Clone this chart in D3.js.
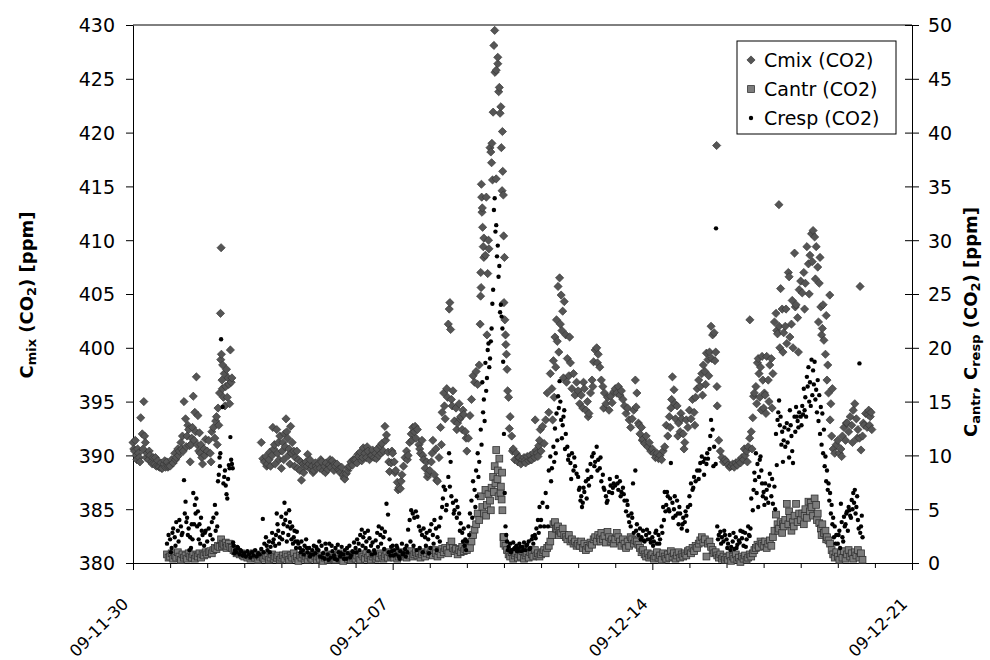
<!DOCTYPE html>
<html>
<head>
<meta charset="utf-8">
<script src="https://cdn.jsdelivr.net/npm/d3@7"></script>
<style>
  body { margin: 0; background: #fff; }
  text { font-family: "DejaVu Sans", sans-serif; fill: #000; }
</style>
</head>
<body>
<div id="chart"></div>
<script>
var N = null;

// hourly readings, one row per day from 09-11-30 00:00 (null = no data)
var cmixHourly = [
  [391.2,390.4,390.0,390.6,389.8,393.5,392.0,395.0,391.2,390.2,389.6,390.0,389.4,389.8,389.2,389.0,389.5,388.9,389.3,388.8,389.2,388.9,389.4,389.0],
  [389.0,389.6,389.3,390.2,389.8,390.6,390.4,391.2,391.8,395.0,393.4,391.8,392.4,389.4,391.6,395.5,394.0,397.3,393.7,392.1,391.0,389.2,390.6,391.5],
  [390.4,391.4,390.2,392.2,392.6,391.6,393.6,394.4,395.8,409.3,398.4,397.6,396.4,395.4,396.6,399.8,397.2,N,N,N,N,N,N,N],
  [N,N,N,N,N,N,N,N,N,N,N,391.2,389.7,389.4,389.9,389.2,389.6,389.0,390.0,390.6,389.2,392.4,391.2,391.8],
  [388.8,391.2,392.0,393.4,391.6,390.6,392.7,391.2,390.4,389.8,390.4,389.6,388.6,387.7,389.2,389.0,389.4,390.1,389.2,388.7,389.0,388.6,389.3,388.8],
  [389.2,388.8,389.4,388.6,389.0,389.3,388.7,389.1,388.9,389.5,388.6,389.0,389.2,388.7,388.4,388.9,388.2,387.8,388.3,388.6,389.0,389.4,389.1,389.6],
  [389.6,389.3,389.9,390.3,389.5,390.7,390.2,389.8,390.4,389.6,390.0,390.5,389.8,390.2,390.6,390.0,390.9,391.1,390.4,392.7,391.9,390.3,388.5,389.3],
  [390.2,389.4,388.6,387.5,387.0,386.9,388.2,389.0,389.8,390.4,390.0,391.2,392.0,392.6,392.2,391.6,392.4,391.0,390.2,391.4,389.6,388.8,389.4,388.3],
  [388.6,389.4,391.4,388.2,390.6,387.6,389.8,392.6,394.0,395.8,393.4,396.2,402.2,404.2,395.2,396.0,393.2,394.4,393.0,394.8,393.6,392.4,393.8,392.2],
  [390.4,391.6,393.7,395.2,397.4,396.8,397.8,396.6,398.4,407.0,413.0,410.2,408.6,401.2,410.0,418.6,417.2,421.9,429.5,425.8,426.4,424.2,422.4,420.1],
  [404.2,401.2,398.0,395.4,393.6,391.8,390.6,389.6,390.2,389.4,389.8,389.2,389.6,389.8,389.3,389.9,389.5,390.0,389.6,390.2,389.8,390.5,389.9,391.4],
  [390.4,392.7,391.1,393.3,395.8,394.0,397.6,396.2,398.8,401.0,402.6,405.7,406.5,404.9,403.4,404.3,401.2,399.0,397.4,398.6,396.2,397.6,395.6,396.8],
  [396.0,394.8,395.6,394.4,396.2,394.2,395.0,393.9,395.8,397.0,398.7,399.8,400.0,399.4,398.2,397.0,396.4,395.8,394.8,395.4,394.2,395.5,394.9,395.9],
  [396.2,395.8,396.4,395.6,396.0,395.2,394.6,393.9,394.4,393.3,392.6,393.4,394.2,397.0,395.8,393.0,392.0,392.6,391.5,391.1,391.8,390.8,391.2,390.4],
  [390.6,390.2,389.8,390.2,389.7,390.0,389.6,390.4,390.8,392.8,391.8,393.6,394.4,397.3,396.1,393.4,394.6,393.0,392.2,393.4,392.0,391.2,393.3,392.6],
  [394.2,393.4,395.2,394.0,395.4,396.2,397.0,396.4,397.6,398.4,397.8,399.5,398.9,399.6,402.0,401.2,401.4,399.6,394.6,391.4,390.4,389.8,389.4,389.6],
  [389.4,389.1,388.9,389.0,389.2,388.9,389.3,389.1,389.5,389.3,389.8,389.6,390.0,390.4,390.8,391.6,392.2,393.5,395.8,396.4,398.6,397.6,398.2,399.2],
  [394.4,395.6,399.2,397.0,398.4,399.0,397.6,402.4,403.2,401.3,402.0,405.5,403.6,401.4,402.0,400.4,407.0,401.0,402.2,400.0,408.8,404.0,402.8,405.4],
  [406.2,405.1,407.0,406.0,409.4,407.8,408.6,410.6,410.9,410.3,409.4,407.5,406.0,403.8,401.8,400.7,399.4,397.0,395.8,393.3,391.8,390.6,390.2,391.0],
  [391.4,390.2,390.6,391.8,392.6,391.4,393.0,392.2,393.6,392.8,394.2,394.8,393.4,392.4,391.6,390.5,391.8,392.8,393.9,392.6,394.2,393.6,392.4,N]
];

var cantrHourly = [
  [N,N,N,N,N,N,N,N,N,N,N,N,N,N,N,N,N,N,N,N,N,N,0.8,0.5],
  [0.6,0.9,0.4,0.7,0.5,1.0,0.6,0.3,0.8,0.5,0.7,0.4,0.9,0.6,0.5,0.8,0.4,0.7,0.6,0.9,0.5,0.8,0.7,1.0],
  [0.8,1.0,1.1,0.9,1.2,1.4,1.3,1.6,1.5,2.2,1.8,1.7,1.9,1.6,1.8,1.5,1.4,1.2,1.1,0.9,1.0,0.8,0.9,0.7],
  [0.6,0.8,0.5,0.7,0.4,0.6,0.9,0.5,0.7,0.3,0.6,0.8,0.5,0.4,0.7,0.6,0.3,0.5,0.8,0.4,0.6,0.5,0.7,0.3],
  [0.5,0.7,0.4,0.8,0.6,0.3,0.7,0.5,0.9,0.4,0.6,0.2,0.7,0.5,0.8,0.4,0.6,0.3,0.7,0.5,0.4,0.8,0.6,0.3],
  [0.6,0.4,0.7,0.2,0.5,0.8,0.3,0.6,0.4,0.7,0.5,0.3,0.6,0.9,0.4,0.5,0.2,0.7,0.6,0.4,0.8,0.3,0.5,0.7],
  [0.4,0.7,0.5,0.3,0.8,0.6,0.4,0.9,0.5,0.7,0.3,0.6,0.8,0.4,0.6,0.5,0.9,0.7,0.4,0.6,0.8,0.5,1.0,0.6],
  [0.7,0.5,0.9,0.4,0.6,0.8,1.0,0.6,0.8,0.5,0.9,0.7,1.1,0.6,0.8,1.0,0.7,0.9,0.5,0.8,1.0,0.6,0.9,1.2],
  [0.8,1.0,0.7,1.2,0.9,0.6,1.1,0.8,1.3,1.0,1.4,1.2,0.9,1.6,2.0,1.4,1.1,1.3,0.8,1.2,1.0,1.5,1.1,1.3],
  [1.2,1.6,1.4,2.0,2.6,3.1,3.6,4.6,4.0,6.2,5.2,4.6,6.8,5.4,6.4,5.8,7.0,8.0,9.0,10.5,8.6,9.7,7.1,4.9],
  [2.4,1.6,1.2,0.8,0.6,1.0,0.4,0.7,0.9,0.5,0.8,0.6,1.1,0.4,0.7,0.9,0.5,1.0,0.8,0.6,1.2,0.7,0.9,0.6],
  [0.8,1.0,1.2,0.9,1.4,1.6,2.0,2.6,3.6,3.8,3.2,3.4,3.0,2.8,3.2,2.6,2.4,2.2,2.6,2.0,2.2,1.8,2.0,1.6],
  [1.8,1.6,2.0,1.4,1.8,1.2,1.6,1.4,1.9,1.7,2.2,2.4,2.0,2.6,2.3,2.8,2.2,2.5,1.9,2.9,2.4,2.0,2.2,1.8],
  [2.2,2.8,2.4,2.0,1.6,2.2,1.8,1.4,2.0,1.6,2.4,2.2,1.8,2.1,2.0,1.7,1.4,1.0,1.2,0.8,0.6,0.9,0.5,0.7],
  [0.8,0.4,0.6,1.0,0.5,0.7,0.3,0.9,0.6,0.4,0.8,0.5,1.1,0.6,0.9,0.4,0.7,1.0,0.5,0.8,0.6,0.9,0.7,1.1],
  [1.2,0.9,1.4,1.1,1.6,1.4,1.8,2.1,2.4,1.9,2.2,0.6,1.8,2.0,1.5,1.2,0.9,1.0,0.7,0.5,0.8,0.4,0.6,0.3],
  [0.5,0.3,0.7,0.2,0.6,0.4,0.8,0.3,0.5,0.1,0.6,0.4,0.7,0.3,0.5,0.8,0.6,0.9,1.2,1.4,1.7,1.5,2.0,1.8],
  [1.6,2.0,1.4,1.8,2.1,1.6,2.4,3.0,4.5,3.6,3.2,3.8,2.8,3.4,4.0,5.5,3.6,4.2,3.0,3.8,4.4,5.5,3.8,4.6],
  [4.0,4.6,3.6,5.0,4.2,5.7,4.8,5.2,4.4,6.0,5.4,4.6,3.7,3.2,3.6,2.8,3.0,2.4,2.1,1.8,1.2,0.8,0.5,1.0],
  [0.6,0.3,0.9,0.5,1.1,0.4,0.8,1.2,0.6,0.9,0.4,1.0,0.7,1.2,0.5,0.9,0.3,N,N,N,N,N,N,N]
];

var crespHourly = [
  [N,N,N,N,N,N,N,N,N,N,N,N,N,N,N,N,N,N,N,N,N,N,1.8,2.6],
  [2.2,1.4,3.2,2.4,3.8,3.0,4.0,3.4,2.8,7.7,5.7,4.2,3.2,2.4,3.6,6.5,5.4,6.0,4.8,3.6,4.2,2.6,1.6,3.0],
  [2.0,3.2,2.6,3.8,4.2,5.4,4.6,7.6,9.8,20.8,14.5,8.0,7.2,6.0,9.1,11.7,9.2,1.6,1.2,1.0,1.4,0.8,1.1,0.7],
  [0.9,0.6,1.1,0.8,0.5,1.0,0.7,1.2,0.6,0.9,0.8,1.3,4.1,1.8,2.4,1.2,2.0,1.5,2.8,2.2,1.6,4.6,3.0,2.4],
  [4.3,2.8,5.6,4.6,3.4,4.9,3.2,3.4,2.4,2.0,2.9,1.8,1.4,2.0,1.2,1.6,2.2,1.0,1.4,0.8,1.2,1.6,0.9,1.3],
  [1.2,0.6,1.6,0.9,0.4,1.3,0.8,1.8,0.5,1.1,0.7,1.4,0.3,1.0,0.6,1.5,0.8,1.2,0.4,0.9,1.6,0.7,1.1,1.9],
  [1.4,2.2,1.8,2.6,3.1,2.4,2.8,2.0,3.0,2.3,1.6,1.9,1.2,2.1,2.8,3.4,2.6,3.2,2.4,2.9,5.5,4.5,2.2,1.5],
  [1.6,1.2,0.8,1.4,0.6,1.1,1.8,0.9,1.3,1.6,3.1,4.0,4.9,4.6,4.2,4.8,4.3,3.4,3.0,2.6,3.2,2.4,2.8,2.2],
  [3.0,3.6,2.6,4.0,3.2,2.4,3.4,4.2,5.2,7.1,6.8,5.4,8.0,7.1,6.2,5.6,4.9,5.8,5.2,4.6,3.7,2.8,3.2,2.2],
  [2.0,3.4,4.6,5.8,7.6,6.8,8.6,10.2,9.4,12.4,16.8,15.2,18.6,17.2,20.4,19.0,21.8,25.4,33.9,31.4,29.5,27.6,24.0,21.8],
  [12.0,3.4,2.0,1.5,1.8,1.2,1.9,1.4,1.6,1.3,1.8,1.1,1.5,1.9,1.2,1.7,2.0,1.4,2.2,1.8,2.6,3.2,4.0,5.2],
  [4.0,5.6,3.4,6.5,5.2,8.6,9.9,8.8,10.8,12.5,13.9,15.5,16.9,13.3,12.8,14.2,12.0,10.8,10.0,9.3,10.2,8.6,9.0,8.3],
  [8.0,7.0,6.2,5.6,6.6,7.6,8.6,7.2,9.2,9.9,10.2,9.4,10.8,9.6,8.8,7.6,8.2,6.8,6.2,5.8,6.6,7.2,6.5,7.4],
  [7.2,8.0,6.8,7.6,6.6,7.0,5.8,4.8,5.4,3.8,3.4,4.2,2.8,8.6,3.6,2.6,3.2,2.4,3.0,2.0,2.6,2.2,2.8,1.9],
  [2.4,2.0,2.8,1.8,2.6,2.2,3.4,5.2,6.6,5.4,6.2,4.8,9.3,5.6,5.0,4.4,5.8,3.6,4.6,3.2,4.2,3.8,4.4,5.2],
  [6.2,7.4,6.8,8.0,7.6,8.6,7.8,9.3,9.9,9.4,9.7,9.2,9.7,10.6,13.3,12.4,10.8,9.2,3.4,2.6,2.9,2.4,2.0,2.6],
  [2.2,1.8,2.6,1.5,2.0,1.3,2.4,1.7,2.1,3.0,2.3,1.6,2.8,2.2,3.4,2.5,6.0,4.9,8.4,10.2,9.2,8.0,9.9,7.4],
  [6.6,7.4,6.8,5.6,8.3,6.2,5.5,7.1,12.0,13.3,15.1,13.6,12.2,11.4,10.8,13.0,12.4,14.2,11.8,9.3,13.6,14.5,13.2,14.0],
  [13.6,14.6,16.2,15.4,17.3,18.2,16.8,18.9,17.9,18.7,16.1,17.0,15.6,14.5,13.9,12.4,9.9,8.6,7.4,6.5,5.4,4.2,3.4,2.6],
  [1.8,3.0,5.5,2.4,4.3,3.6,4.8,5.2,4.4,5.85,6.5,6.8,5.2,4.0,18.55,3.4,2.4,N,N,N,N,N,N,N]
];

// extra readings between the hours: [day, hour, value]
var cmixExtra = [
  [0,0.5,390.6],[0,1.5,391.4],[0,2.5,389.6],[0,3.5,390.2],[0,4.5,389.4],[0,6.5,390.6],[0,7.5,391.8],[0,8.5,389.8],[0,10.5,390.4],[0,12.5,389.2],[0,14.5,389.8],[0,16.5,389.0],[0,18.5,388.8],[0,20.5,389.5],[0,22.5,388.9],
  [1,3.5,389.6],[1,5.5,390.0],[1,7.5,390.6],[1,8.5,390.4],[1,10.5,390.8],[1,11.5,392.8],[1,12.5,390.9],[1,13.5,391.0],[1,14.5,392.6],[1,15.5,391.4],[1,16.5,392.2],[1,17.5,391.0],[1,18.5,390.4],[1,19.5,390.2],[1,20.5,389.8],[1,22.5,390.0],
  [2,2.5,389.4],[2,5.5,393.2],[2,6.5,391.0],[2,7.5,392.8],[2,8.6,403.2],[2,8.8,398.9],[2,9.2,399.4],[2,9.6,397.0],[2,9.8,396.2],[2,10.5,395.4],[2,11.5,394.6],[2,12.5,398.0],[2,13.5,397.2],[2,14.5,394.8],[2,15.5,396.8],
  [3,14.5,389.0],[3,16.5,390.3],[3,18.5,392.6],[3,19.5,391.0],[3,21.5,390.2],[3,22.5,389.6],
  [4,0.5,390.4],[4,1.5,389.6],[4,2.5,390.8],[4,3.5,392.2],[4,4.5,390.0],[4,5.5,389.2],[4,6.5,390.2],[4,8.5,389.0],[4,10.5,388.8],[4,12.5,389.4],[4,14.5,388.4],[4,16.5,389.0],[4,18.5,389.6],[4,20.5,388.4],[4,22.5,389.0],
  [5,1.5,389.6],[5,4.5,388.4],[5,7.5,389.6],[5,10.5,389.2],[5,13.5,388.6],[5,16.5,387.9],[5,19.5,388.9],[5,22.5,389.6],
  [6,1.5,390.1],[6,4.5,389.8],[6,7.5,390.8],[6,10.5,390.0],[6,13.5,389.7],[6,16.5,390.2],[6,19.5,391.4],[6,21.5,389.4],[6,23.5,390.4],
  [7,1.5,388.4],[7,3.5,386.8],[7,5.5,387.6],[7,9.5,389.6],[7,12.5,391.4],[7,14.5,392.7],[7,17.5,390.6],[7,19.5,390.0],[7,22.5,388.0],
  [8,1.5,390.2],[8,4.5,387.7],[8,7.5,391.0],[8,9.5,394.6],[8,11.5,395.4],[8,12.6,403.6],[8,13.5,401.7],[8,14.5,394.6],[8,17.5,392.4],[8,19.5,393.4],[8,21.5,394.2],[8,23.5,391.6],
  [9,8.6,402.2],[9,8.9,404.8],[9,9.2,405.6],[9,9.4,415.2],[9,9.6,414.0],[9,9.8,412.6],[9,10.2,411.2],[9,10.6,409.4],[9,11.0,408.4],[9,12.6,414.0],[9,13.5,406.9],[9,14.3,409.2],[9,15.5,418.2],[9,16.2,419.0],[9,16.6,415.6],[9,17.5,428.1],[9,18.2,425.6],[9,19.0,415.7],[9,20.0,427.0],[9,20.6,423.8],[9,21.5,421.8],[9,22.3,418.6],[9,22.8,414.6],[9,23.2,416.4],[9,23.6,414.2],[9,23.8,410.4],
  [10,0.3,408.4],[10,0.6,402.6],[10,1.2,400.3],[10,1.6,399.4],[10,2.4,396.0],[10,3.5,392.5],[10,5.5,390.4],[10,9.5,389.8],[10,13.5,389.5],[10,17.5,389.6],[10,20.2,393.3],[10,21.5,390.2],[10,22.5,390.9],[10,23.5,392.4],
  [11,7.5,393.3],[11,8.5,395.4],[11,9.5,398.2],[11,10.5,400.6],[11,11.5,399.6],[11,12.5,402.2],[11,13.5,401.6],[11,14.5,397.2],[11,16.5,396.8],[11,18.5,401.0],
  [12,3.5,396.8],[12,6.5,393.6],[12,9.5,396.4],[12,12.5,398.6],[12,16.5,394.4],
  [13,13.5,394.5],[13,15.5,392.8],[13,17.5,391.4],
  [14,11.5,392.6],[14,12.5,395.2],[14,14.5,394.8],[14,16.5,391.8],[14,18.5,393.9],[14,20.5,390.6],
  [15,3.5,392.8],[15,8.5,395.6],[15,10.5,396.6],[15,12.5,397.4],[15,14.5,399.0],[15,16.5,398.8],[15,17.6,418.8],[15,17.8,396.4],
  [16,11.5,390.6],[16,13.5,389.4],[16,15.1,402.6],[16,16.5,390.6],[16,17.5,395.5],[16,19.5,394.8],[16,20.5,399.0],[16,21.5,395.4],[16,22.5,394.2],[16,23.5,397.0],
  [17,0.5,395.8],[17,1.5,393.9],[17,3.5,395.0],[17,5.5,394.4],[17,8.5,401.6],[17,9.9,413.3],[17,10.5,400.0],[17,12.5,399.6],[17,14.5,403.6],[17,16.5,406.6],[17,18.5,404.4],[17,20.5,403.8],[17,22.5,399.6],
  [18,2.5,403.6],[18,5.5,405.0],[18,7.5,408.0],[18,9.5,406.4],[18,11.5,402.4],[18,12.5,408.4],[18,13.5,401.2],[18,14.5,404.0],[18,16.5,403.0],[18,17.5,398.4],[18,18.8,404.9],[18,19.5,394.8],[18,20.5,396.2],
  [19,2.5,389.9],[19,5.5,393.0],[19,9.5,391.2],[19,12.5,391.6],[19,14.4,405.7],[19,16.5,393.0],[19,19.5,393.8],[19,20.5,392.8],[19,21.5,394.0]
];

var cantrExtra = [
  [2,9.5,1.6],[2,12.5,1.4],
  [9,12.5,4.4],[9,15.5,4.9],[9,17.5,6.6],[9,18.5,7.4],[9,19.8,7.8],[9,20.5,6.2],[9,21.8,6.5],[9,22.5,5.9],[9,22.8,8.4],[9,23.6,2.4],[9,23.8,1.8],
  [11,9.5,3.2],[11,11.5,2.6],[12,14.5,2.0],
  [17,9.5,3.0],[17,12.5,3.6],[17,16.5,4.8],[17,19.5,3.4],
  [18,2.5,4.4],[18,6.5,5.6],[18,10.5,4.0],[18,13.5,2.6],[18,16.5,2.2]
];

var crespExtra = [
  [1,0.5,1.0],[1,1.5,2.8],[1,3.5,1.6],[1,5.5,2.0],[1,7.5,2.6],[1,9.5,4.6],[1,10.5,3.8],[1,11.5,2.6],[1,12.5,1.2],[1,13.5,1.4],[1,14.5,2.2],[1,15.5,3.6],[1,16.5,4.6],[1,17.5,3.4],[1,18.5,2.2],[1,19.5,1.8],[1,20.5,3.0],[1,22.5,2.8],
  [2,3.5,2.2],[2,5.5,3.0],[2,6.5,3.4],[2,7.5,8.2],[2,8.2,9.0],[2,8.5,10.2],[2,10.5,7.4],[2,11.5,8.6],[2,12.5,6.4],[2,13.5,7.8],[2,14.5,8.8],[2,15.5,9.6],[2,16.5,8.8],[2,16.8,1.9],[2,17.5,0.9],[2,19.5,1.5],[2,21.5,1.2],
  [3,12.5,1.0],[3,14.5,1.6],[3,16.5,1.0],[3,18.5,1.9],[3,20.5,2.6],[3,21.5,3.6],[3,22.5,1.8],
  [4,0.5,2.2],[4,1.5,3.6],[4,2.5,4.0],[4,3.5,2.0],[4,4.5,2.6],[4,5.5,3.8],[4,6.5,2.2],[4,7.5,1.8],[4,8.5,3.0],[4,9.5,1.4],[4,10.5,2.0],[4,12.5,1.0],[4,14.5,0.8],[4,16.5,1.4],[4,18.5,0.6],[4,20.5,0.8],[4,22.5,1.5],
  [5,0.5,2.0],[5,2.5,0.5],[5,4.5,1.8],[5,6.5,0.3],[5,8.5,1.6],[5,10.5,0.4],[5,12.5,1.7],[5,14.5,0.9],[5,16.5,0.4],[5,18.5,1.4],[5,20.5,0.5],[5,22.5,1.0],
  [6,0.5,1.0],[6,2.5,1.2],[6,4.5,1.6],[6,6.5,1.4],[6,8.5,1.1],[6,10.5,0.8],[6,12.5,0.9],[6,14.5,1.5],[6,16.5,1.8],[6,18.5,1.3],[6,21.5,1.0],[6,22.5,0.7],[6,23.5,1.1],
  [7,0.5,0.7],[7,2.5,1.6],[7,4.5,0.4],[7,6.5,0.8],[7,8.5,0.6],[7,9.5,1.0],[7,11.5,2.0],[7,13.5,1.6],[7,15.5,1.2],[7,17.5,1.4],[7,19.5,1.0],[7,21.5,1.6],[7,23.5,0.9],
  [8,0.5,1.4],[8,2.5,1.8],[8,4.5,1.2],[8,6.5,2.0],[8,8.5,6.0],[8,10.5,4.9],[8,12.5,10.2],[8,13.5,9.4],[8,15.5,4.6],[8,17.5,4.2],[8,19.5,3.0],[8,21.5,2.0],[8,22.5,1.6],[8,23.5,1.2],
  [9,1.5,2.6],[9,3.5,4.2],[9,5.5,5.2],[9,6.5,6.2],[9,7.5,8.0],[9,9.5,11.0],[9,10.5,14.0],[9,11.5,13.2],[9,12.5,16.0],[9,13.5,19.8],[9,14.5,18.2],[9,15.5,20.6],[9,16.5,24.1],[9,17.5,32.8],[9,18.5,30.8],[9,19.5,28.5],[9,20.5,26.6],[9,21.5,23.3],[9,22.5,22.9],[9,23.5,18.7],
  [10,0.5,6.5],[10,1.5,2.6],[10,2.5,1.2],[10,4.5,1.0],[10,6.5,1.3],[10,8.5,1.1],[10,10.5,1.5],[10,12.5,1.2],[10,14.5,1.6],[10,16.5,1.3],[10,18.5,2.5],[10,20.5,2.3],[10,22.5,2.8],[10,23.5,3.4],
  [11,4.5,3.4],[11,6.5,7.6],[11,8.5,9.4],[11,9.5,10.2],[11,10.5,11.4],[11,11.5,14.4],[11,12.5,15.0],[11,13.5,11.6],[11,14.5,13.6],[11,15.5,10.6],[11,17.5,9.6],[11,19.5,7.8],[11,21.5,9.8],
  [12,0.5,6.8],[12,1.5,5.8],[12,2.5,5.2],[12,3.5,7.0],[12,5.5,6.0],[12,6.5,7.8],[12,8.5,8.0],[12,10.5,9.0],[12,12.5,8.6],[12,14.5,9.8],[12,16.5,7.0],[12,18.5,5.6],[12,20.5,7.8],[12,22.5,7.0],
  [13,1.5,7.4],[13,3.5,6.2],[13,5.5,6.4],[13,7.5,5.8],[13,8.5,4.4],[13,10.5,4.6],[13,11.5,7.4],[13,13.5,3.0],[13,16.5,2.2],[13,18.5,2.1],[13,20.5,3.1],[13,22.5,2.2],
  [14,0.5,1.6],[14,2.5,3.0],[14,4.5,1.8],[14,6.5,2.8],[14,7.5,4.0],[14,8.5,4.8],[14,9.5,6.6],[14,10.5,5.0],[14,11.5,6.0],[14,13.5,4.2],[14,14.5,6.2],[14,16.5,4.6],[14,17.5,5.2],[14,19.5,3.6],[14,21.5,4.8],[14,22.5,3.0],
  [15,0.5,5.4],[15,2.5,7.0],[15,6.5,8.6],[15,9.5,8.2],[15,11.5,10.2],[15,13.5,11.8],[15,15.5,9.0],[15,17.2,31.1],[15,18.5,2.2],[15,20.5,1.8],[15,22.5,3.0],
  [16,0.5,1.4],[16,2.5,1.2],[16,4.5,2.8],[16,6.5,1.4],[16,8.5,1.9],[16,10.5,2.9],[16,12.5,1.5],[16,14.5,2.6],[16,15.5,3.2],[16,17.5,6.8],[16,18.5,7.7],[16,19.5,6.5],[16,20.5,5.2],[16,21.5,9.6],[16,22.5,8.6],[16,23.5,6.2],
  [17,0.5,5.4],[17,1.5,6.0],[17,3.5,7.2],[17,5.5,7.8],[17,7.5,5.0],[17,8.5,9.1],[17,9.5,14.0],[17,10.5,12.8],[17,11.5,11.0],[17,12.5,9.4],[17,13.5,12.6],[17,15.5,11.2],[17,16.5,9.8],[17,17.5,12.8],[17,18.5,10.4],[17,20.5,12.2],[17,21.5,13.6],[17,22.5,12.6],
  [18,0.5,12.8],[18,1.5,13.8],[18,2.5,14.2],[18,3.5,13.6],[18,4.5,16.4],[18,5.5,15.0],[18,6.5,14.6],[18,7.5,15.6],[18,8.5,16.6],[18,9.5,15.2],[18,10.5,14.0],[18,11.5,13.2],[18,12.5,12.0],[18,13.5,11.0],[18,14.5,10.2],[18,15.5,9.0],[18,16.5,7.6],[18,17.5,6.8],[18,18.5,5.8],[18,19.5,4.6],[18,20.5,3.6],[18,21.5,2.4],[18,22.5,1.8],
  [19,0.5,2.6],[19,1.5,1.4],[19,2.5,3.8],[19,3.5,2.0],[19,4.5,3.4],[19,5.5,4.6],[19,6.5,3.0],[19,7.5,4.9],[19,8.5,4.2],[19,9.5,5.0],[19,10.5,5.6],[19,11.5,4.6],[19,12.5,6.2],[19,13.5,3.2],[19,14.5,2.8],[19,15.5,4.4]
];

var leftTicks = [380, 385, 390, 395, 400, 405, 410, 415, 420, 425, 430];
var rightTicks = [0, 5, 10, 15, 20, 25, 30, 35, 40, 45, 50];
var legendNames = ["Cmix (CO2)", "Cantr (CO2)", "Cresp (CO2)"];

// set the dimensions and margins of the graph
var margin = {top: 25, right: 78, bottom: 97, left: 133},
    width = 990 - margin.left - margin.right,
    height = 660 - margin.top - margin.bottom;

var start = new Date(2009, 10, 30),
    end = new Date(2009, 11, 21);

function at(day, hour) {
  return new Date(start.getTime() + (day * 24 + hour) * 3600000);
}

function toPoints(rows, extra) {
  var pts = [];
  rows.forEach(function(row, day) {
    row.forEach(function(v, h) {
      if (v !== null) pts.push({t: at(day, h), v: v});
    });
  });
  extra.forEach(function(e) { pts.push({t: at(e[0], e[1]), v: e[2]}); });
  return pts.sort(function(a, b) { return a.t - b.t; });
}

var cmix = toPoints(cmixHourly, cmixExtra),
    cantr = toPoints(cantrHourly, cantrExtra),
    cresp = toPoints(crespHourly, crespExtra);

var svg0 = d3.select("#chart").append("svg")
    .attr("width", 990)
    .attr("height", 660);

var svg = svg0.append("g")
    .attr("transform", "translate(" + margin.left + "," + margin.top + ")");

var x = d3.scaleTime().domain([start, end]).range([0, width]);
var yL = d3.scaleLinear().domain([380, 430]).range([height, 0]);
var yR = d3.scaleLinear().domain([0, 50]).range([height, 0]);

var fmt = d3.timeFormat("%y-%m-%d");
function dayNo(d) { return Math.round((d - start) / 864e5); }

// X axis, a tick every day, a label every week
var xAxis = svg.append("g")
    .attr("transform", "translate(0," + height + ")")
    .call(d3.axisBottom(x)
      .ticks(d3.timeDay.every(1))
      .tickSize(5)
      .tickSizeOuter(0)
      .tickFormat(function(d) { return dayNo(d) % 7 === 0 ? fmt(d) : ""; }));
xAxis.selectAll(".tick line")
    .attr("y2", function(d) { return dayNo(d) % 7 === 0 ? 7 : 5; });

// left Y axis
var yAxisL = svg.append("g")
    .call(d3.axisLeft(yL).tickValues(leftTicks).tickSize(7).tickPadding(11).tickSizeOuter(0));

// right Y axis, ticks crossing the line
var yAxisR = svg.append("g")
    .attr("transform", "translate(" + width + ",0)")
    .call(d3.axisRight(yR).tickValues(rightTicks).tickSize(7).tickPadding(9).tickSizeOuter(0));
yAxisR.selectAll(".tick line").attr("x1", -7);

// top border of the plot
svg.append("line")
    .attr("x1", 0).attr("x2", width).attr("y1", 0).attr("y2", 0)
    .attr("stroke", "#000");

svg0.selectAll(".tick text")
    .attr("font-family", "DejaVu Sans, sans-serif")
    .attr("font-size", 19)
    .attr("fill", "#000")
    .attr("dy", "0.36em");
svg0.selectAll(".domain, .tick line").attr("stroke", "#000");

xAxis.selectAll(".tick text")
    .attr("x", 0).attr("y", 0).attr("dy", 0)
    .attr("font-size", 16.5)
    .attr("text-anchor", "end")
    .attr("transform", "translate(-4,42) rotate(-45)");

var diamond = "M0,-4.1L4.1,0L0,4.1L-4.1,0Z";

// Show the points
svg.append("g")
  .selectAll("path")
  .data(cmix)
  .join("path")
    .attr("d", diamond)
    .attr("transform", function(d) { return "translate(" + x(d.t) + "," + yL(d.v) + ")"; })
    .attr("fill", "#555")
    .attr("stroke", "#363636")
    .attr("stroke-width", 0.7);

svg.append("g")
  .selectAll("rect")
  .data(cantr)
  .join("rect")
    .attr("x", function(d) { return x(d.t) - 3.4; })
    .attr("y", function(d) { return yR(d.v) - 3.4; })
    .attr("width", 6.8)
    .attr("height", 6.8)
    .attr("fill", "#7c7c7c")
    .attr("stroke", "#333")
    .attr("stroke-width", 0.8);

svg.append("g")
  .selectAll("circle")
  .data(cresp)
  .join("circle")
    .attr("cx", function(d) { return x(d.t); })
    .attr("cy", function(d) { return yR(d.v); })
    .attr("r", 2.2)
    .attr("fill", "#000");

// axis titles
var tl = svg0.append("text")
    .attr("transform", "translate(33,295) rotate(-90)")
    .attr("text-anchor", "middle")
    .attr("font-weight", "bold")
    .attr("font-size", 18);
tl.append("tspan").text("C");
tl.append("tspan").attr("font-size", 13).attr("dy", 3).text("mix");
tl.append("tspan").attr("dy", -3).text(" (CO");
tl.append("tspan").attr("font-size", 13).attr("dy", 3).text("2");
tl.append("tspan").attr("dy", -3).text(") [ppm]");

var tr = svg0.append("text")
    .attr("transform", "translate(977,322) rotate(-90)")
    .attr("text-anchor", "middle")
    .attr("font-weight", "bold")
    .attr("font-size", 18);
tr.append("tspan").text("C");
tr.append("tspan").attr("font-size", 13).attr("dy", 3).text("antr");
tr.append("tspan").attr("dy", -3).text(", C");
tr.append("tspan").attr("font-size", 13).attr("dy", 3).text("resp");
tr.append("tspan").attr("dy", -3).text(" (CO");
tr.append("tspan").attr("font-size", 13).attr("dy", 3).text("2");
tr.append("tspan").attr("dy", -3).text(") [ppm]");

// legend
var lg = svg0.append("g").attr("transform", "translate(737,41)");
lg.append("rect")
    .attr("width", 159).attr("height", 93)
    .attr("fill", "#fff").attr("stroke", "#000");
var rows = lg.selectAll("g.item")
  .data(legendNames)
  .join("g")
    .attr("transform", function(d, i) { return "translate(14," + (19 + i * 29) + ")"; });
rows.each(function(d, i) {
  var g = d3.select(this);
  if (i === 0) g.append("path").attr("d", diamond).attr("fill", "#555").attr("stroke", "#363636").attr("stroke-width", 0.7);
  if (i === 1) g.append("rect").attr("x", -3.4).attr("y", -3.4).attr("width", 6.8).attr("height", 6.8).attr("fill", "#7c7c7c").attr("stroke", "#333").attr("stroke-width", 0.8);
  if (i === 2) g.append("circle").attr("r", 2.2).attr("fill", "#000");
});
rows.append("text")
    .attr("x", 13)
    .attr("dy", "0.36em")
    .attr("font-size", 19)
    .text(function(d) { return d; });
</script>
</body>
</html>
